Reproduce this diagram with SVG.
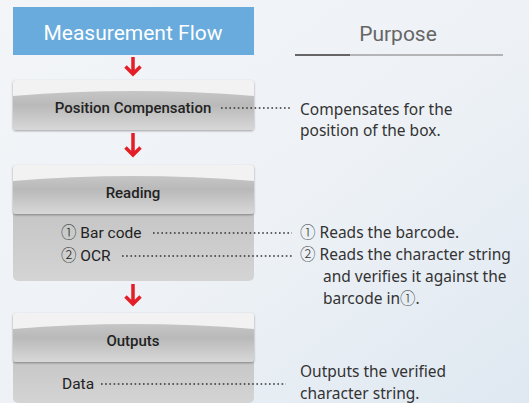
<svg xmlns="http://www.w3.org/2000/svg" width="529" height="403" viewBox="0 0 529 403">
<defs>
<linearGradient id="bg" x1="0" y1="0" x2="1" y2="1">
<stop offset="0" stop-color="#f3f5f8"/>
<stop offset="0.5" stop-color="#eef2f6"/>
<stop offset="1" stop-color="#dfe8f1"/>
</linearGradient>
<linearGradient id="hdr" x1="0" y1="0" x2="0" y2="1">
<stop offset="0" stop-color="#d0d0d0"/>
<stop offset="0.5" stop-color="#b9b9b9"/>
<stop offset="1" stop-color="#d8d8d8"/>
</linearGradient>
<linearGradient id="body" x1="0" y1="0" x2="0" y2="1">
<stop offset="0" stop-color="#c4c4c4"/>
<stop offset="1" stop-color="#d4d4d4"/>
</linearGradient>
<filter id="sh" x="-5%" y="-10%" width="110%" height="130%">
<feDropShadow dx="0" dy="1" stdDeviation="1" flood-color="#000" flood-opacity="0.35"/>
</filter>
</defs>
<style>
.lbl{font-family:Roboto,"DejaVu Sans Condensed",sans-serif;fill:#222;font-size:15.5px;}
.hd{font-family:Roboto,"DejaVu Sans Condensed",sans-serif;fill:#222;font-size:15px;text-anchor:middle;font-weight:500;}
.txt{font-family:"Noto Sans","Open Sans",sans-serif;fill:#333;font-size:15.5px;}
.c{font-family:"Noto Sans CJK JP","Noto Sans CJK SC",sans-serif;font-weight:300;}
.dot{stroke:#333;stroke-width:1.6;stroke-dasharray:1.6 2.6;fill:none;}
.arr{stroke:#e41e26;fill:none;stroke-width:3.5;}
.hl{fill:#f2f2f2;}
</style>
<rect x="0" y="0" width="529" height="403" fill="url(#bg)"/>

<g id="title">
<rect x="13" y="7" width="241" height="48" fill="#68abdc"/>
<text x="133" y="40" text-anchor="middle" font-family="Roboto,'DejaVu Sans Condensed',sans-serif" font-size="21" fill="#fff">Measurement Flow</text>
</g>

<g id="purpose">
<text x="398" y="41" text-anchor="middle" font-family="Roboto,'DejaVu Sans Condensed',sans-serif" font-size="21" fill="#666">Purpose</text>
<line x1="295" y1="55" x2="503" y2="55" stroke="#777" stroke-width="1"/>
<line x1="295" y1="55" x2="350" y2="55" stroke="#666" stroke-width="2"/>
</g>

<g id="position-compensation">
<rect x="13" y="80" width="241" height="50" rx="3" fill="url(#hdr)" filter="url(#sh)"/>
<path class="hl" d="M16 80 H251 Q254 80 254 83 V96 Q133 86 13 96 V83 Q13 80 16 80 Z"/>
<text class="hd" x="133" y="113">Position Compensation</text>
</g>

<g id="reading">
<rect x="13" y="205" width="241" height="76" rx="5" fill="url(#body)"/>
<rect x="13" y="165" width="241" height="49" rx="3" fill="url(#hdr)" filter="url(#sh)"/>
<path class="hl" d="M16 165 H251 Q254 165 254 168 V181 Q133 171 13 181 V168 Q13 165 16 165 Z"/>
<text class="hd" x="133" y="198">Reading</text>
<text class="lbl" x="61" y="238"><tspan class="c">①</tspan> Bar code</text>
<text class="lbl" x="61" y="261"><tspan class="c">②</tspan> OCR</text>
</g>

<g id="outputs">
<rect x="13" y="350" width="241" height="53" rx="5" fill="url(#body)"/>
<rect x="13" y="313" width="241" height="49" rx="3" fill="url(#hdr)" filter="url(#sh)"/>
<path class="hl" d="M16 313 H251 Q254 313 254 316 V329 Q133 319 13 329 V316 Q13 313 16 313 Z"/>
<text class="hd" x="133" y="346">Outputs</text>
<text class="lbl" x="62" y="389">Data</text>
</g>

<g id="connectors">
<path class="arr" d="M133 57 V74 M125.5 66.5 L133 74 L140.5 66.5"/>
<path class="arr" d="M133 133 V155 M125.5 147.5 L133 155 L140.5 147.5"/>
<path class="arr" d="M133 284 V304 M125.5 296.5 L133 304 L140.5 296.5"/>
<line class="dot" x1="221" y1="108" x2="292" y2="108"/>
<line class="dot" x1="153" y1="233" x2="292" y2="233"/>
<line class="dot" x1="122" y1="256" x2="292" y2="256"/>
<line class="dot" x1="101" y1="384" x2="286" y2="384"/>
</g>

<g id="purpose-texts">
<text class="txt" x="300" y="115">Compensates for the</text>
<text class="txt" x="300" y="136">position of the box.</text>
<text class="txt" x="300" y="238"><tspan class="c">①</tspan> Reads the barcode.</text>
<text class="txt" x="300" y="260"><tspan class="c">②</tspan> Reads the character string</text>
<text class="txt" x="323" y="282">and verifies it against the</text>
<text class="txt" x="323" y="304">barcode in<tspan class="c">①</tspan>.</text>
<text class="txt" x="300" y="377">Outputs the verified</text>
<text class="txt" x="300" y="399">character string.</text>
</g>
</svg>
